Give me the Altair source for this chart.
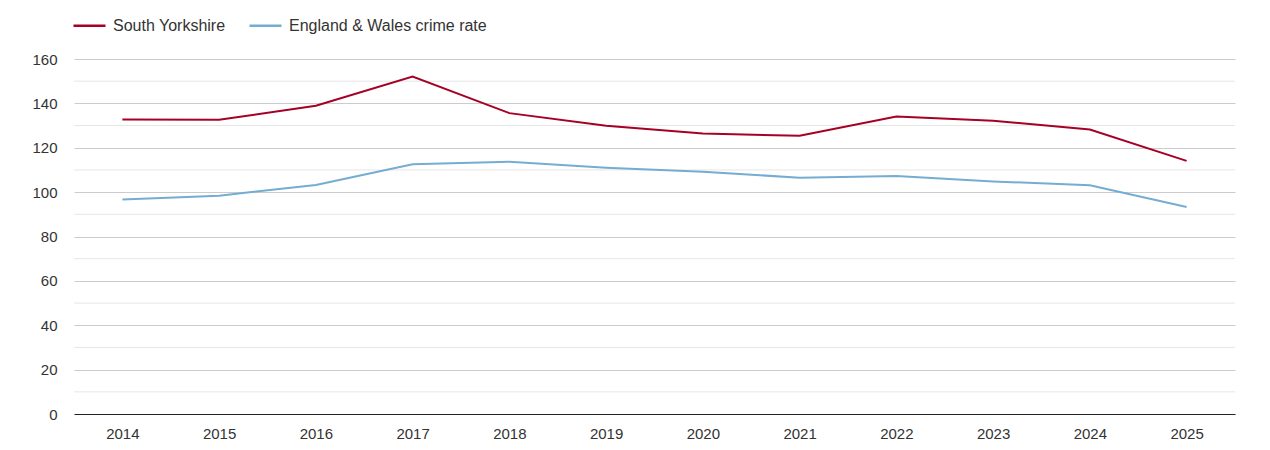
import altair as alt
import pandas as pd

years = [str(y) for y in range(2014, 2026)]
south_yorkshire = [132.7, 132.6, 138.9, 152.1, 135.6, 129.9, 126.4, 125.4, 134.1, 132.2, 128.2, 114.1]
england_wales = [96.7, 98.4, 103.2, 112.6, 113.7, 111.0, 109.2, 106.5, 107.3, 104.8, 103.1, 93.3]
series_names = ["South Yorkshire", "England & Wales crime rate"]
series_colors = ["#a50026", "#74add1"]
major_ticks = [0, 20, 40, 60, 80, 100, 120, 140, 160]
minor_ticks = [10, 30, 50, 70, 90, 110, 130, 150]

rows = []
for i, y in enumerate(years):
    rows.append({"year": y, "series": series_names[0], "value": south_yorkshire[i]})
    rows.append({"year": y, "series": series_names[1], "value": england_wales[i]})
df = pd.DataFrame(rows)
minor_df = pd.DataFrame({"v": minor_ticks})

FONT = "Liberation Sans"

y_scale = alt.Scale(domain=[0, 160], nice=False)
y_axis = alt.Axis(
    title=None, values=major_ticks, ticks=False, domain=False,
    gridColor="#cccccc", gridWidth=1,
    labelFont=FONT, labelFontSize=15, labelColor="#333333", labelPadding=17,
)

minor = alt.Chart(minor_df).mark_rule(color="#e6e6e6", strokeWidth=1).encode(
    y=alt.Y("v:Q", scale=y_scale, axis=y_axis)
)

lines = alt.Chart(df).mark_line(strokeWidth=2).encode(
    x=alt.X(
        "year:O",
        sort=years,
        scale=alt.Scale(type="point", padding=0.5),
        axis=alt.Axis(
            title=None, labelAngle=0, ticks=False, grid=False,
            domainColor="#222222", domainWidth=1,
            labelFont=FONT, labelFontSize=15, labelColor="#333333", labelPadding=12,
        ),
    ),
    y=alt.Y("value:Q", scale=y_scale, axis=y_axis),
    color=alt.Color(
        "series:N",
        scale=alt.Scale(domain=series_names, range=series_colors),
        sort=series_names,
        legend=alt.Legend(
            title=None, orient="none", direction="horizontal",
            legendX=-2, legendY=-51,
            symbolType="stroke", symbolSize=1024, symbolStrokeWidth=2.5,
            labelFont=FONT, labelFontSize=16, labelColor="#333333", labelLimit=0,
            labelOffset=6, columnPadding=18,
        ),
    ),
)

chart = alt.layer(minor, lines).properties(
    width=1161, height=355,
    background="white",
    autosize=alt.AutoSizeParams(type="none"),
    padding={"left": 66, "top": 51, "right": 27, "bottom": 28},
).configure_view(stroke=None)

chart.save("out.html", embed_options={"renderer": "svg", "actions": False})
